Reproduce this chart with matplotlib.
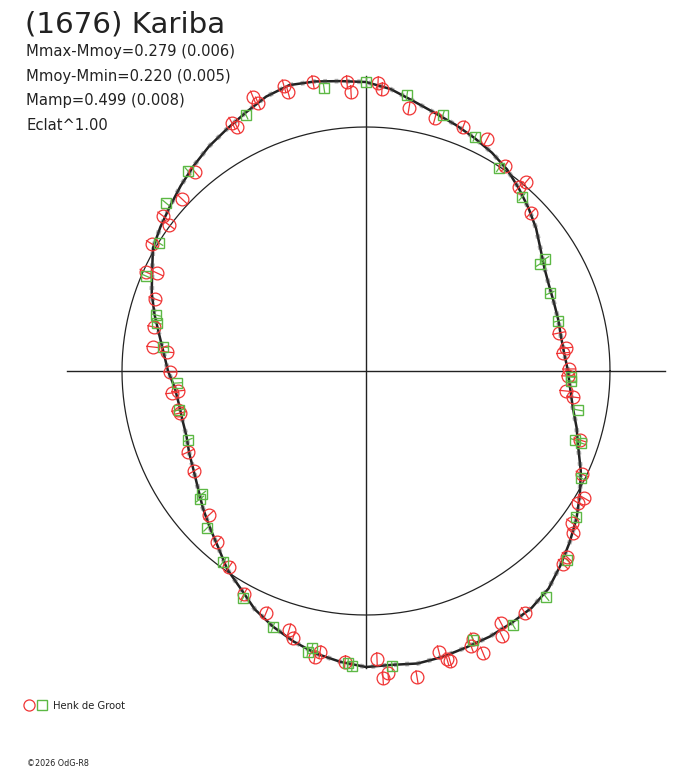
import matplotlib

matplotlib.use("Agg")

import matplotlib.pyplot as plt
import numpy as np


# fitted curve: phase angle (deg) and radius (reference circle = 244)
CURVE_ANGLE = np.arange(0, 360, 5)
CURVE_RADIUS = [
    202, 199, 198, 199, 200, 202, 206, 213, 222, 230, 238, 246,
    252, 257, 262, 267, 274, 283, 289, 291, 294, 296, 292, 285,
    279, 274, 268, 262, 256, 251, 246, 236, 228, 219, 210, 203,
    198, 192, 190, 190, 191, 195, 199, 205, 213, 221, 230, 242,
    251, 263, 272, 280, 287, 292, 296, 295, 297, 296, 294, 293,
    291, 289, 284, 275, 266, 257, 247, 237, 226, 218, 210, 205,
]
REF_RADIUS = 244

# observations, offsets from the centre in the same units
RED_X = [
    -53, -82, -78, -113, -108, -134, -129, -171, -184, -203, -197, -214,
    -19, -15, 12, 16, 43, 69, 97, 121, 139, 160, 153, 165,
    193, 200, 197, 203, 202, 200, 207, 214, 216, 218, 212,
    -220, -209, -211, -212, -213, -199, -196, -194, -188, -188, -186,
    -178, -172, -157, -149, -137, -122, -100, -77, -73, -46, -51, -21,
    11, 17, 22, 51, 73, 81, 84, 107, 105, 117, 135, 136, 159,
    201, 197, 206, 207,
]
RED_Y = [
    289, 285, 279, 274, 268, 248, 244, 199, 172, 155, 146, 127,
    289, 279, 288, 282, 263, 253, 244, 232, 205, 189, 184, 158,
    38, 23, 18, 2, -5, -20, -26, -69, -103, -127, -132,
    99, 98, 72, 44, 24, 19, -1, -22, -20, -39, -42,
    -81, -100, -144, -171, -196, -223, -242, -259, -267, -281, -286, -291,
    -288, -307, -302, -306, -281, -288, -290, -268, -275, -282, -252, -265, -242,
    -186, -193, -152, -162,
]
GREEN_X = [
    -42, 0, -120, -178, -200, -207, 41, 77, 109, 133, 156, 179, 174,
    184, 192, 205, 205, 212, 209, 215, 215,
    -220, -210, -209, -203, -189, -187, -178, -164, -166, -159, -143,
    -123, -93, -54, -58, -18, -14, 26, 107, 147, 180, 201, 210,
]
GREEN_Y = [
    283, 289, 256, 200, 168, 128, 276, 256, 234, 203, 174, 112, 107,
    78, 50, -6, -10, -39, -69, -72, -107,
    95, 56, 48, 24, -12, -39, -69, -123, -128, -157, -191,
    -227, -256, -277, -281, -292, -295, -295, -269, -254, -226, -189, -146,
]

TITLE = "(1676) Kariba"
INFO_LINES = [
    "Mmax-Mmoy=0.279 (0.006)",
    "Mmoy-Mmin=0.220 (0.005)",
    "Mamp=0.499 (0.008)",
    "Eclat^1.00",
]
OBSERVER = "Henk de Groot"
CREDIT = "\u00a92026 OdG-R8"

RED = "#f03434"
GREEN = "#5cb844"
INK = "#222222"
W, H = 688, 768


def radial_ticks(ax, xs, ys, color, half=7):

    xs = np.asarray(xs, float)
    ys = np.asarray(ys, float)
    r = np.hypot(xs, ys)
    ux, uy = xs / r, ys / r
    for x, y, dx, dy in zip(xs, ys, ux, uy):
        ax.plot([x - dx * half, x + dx * half], [y - dy * half, y + dy * half],
                color=color, lw=0.9, solid_capstyle="butt", zorder=4)


def main():

    plt.rcParams["font.family"] = ["DejaVu Sans"]

    fig = plt.figure(figsize=(W / 100, H / 100), dpi=100)
    ax = fig.add_axes([0, 0, 1, 1])
    ax.set_xlim(-366, W - 366)
    ax.set_ylim(-(H - 371), 371)
    ax.axis("off")

    # axes cross
    ax.plot([-299, 299], [0, 0], color=INK, lw=1.0, zorder=1)
    ax.plot([0, 0], [-297, 295], color=INK, lw=1.0, zorder=1)

    # reference circle
    t = np.radians(np.arange(0, 361, 1))
    ax.plot(REF_RADIUS * np.cos(t), REF_RADIUS * np.sin(t),
            color=INK, lw=0.9, zorder=2)

    # fitted curve
    a = np.radians(np.append(CURVE_ANGLE, CURVE_ANGLE[0]))
    rr = np.append(CURVE_RADIUS, CURVE_RADIUS[0])
    ax.plot(rr * np.cos(a), rr * np.sin(a), color=INK, lw=1.8, zorder=3)
    ax.plot(rr * np.cos(a), rr * np.sin(a), color="#444444", lw=3.4,
            alpha=0.4, linestyle=(0, (0.8, 1.6)), zorder=3)

    # observations
    ax.plot(RED_X, RED_Y, "o", ms=9.2, mfc="none", mec=RED, mew=0.9, zorder=5)
    radial_ticks(ax, RED_X, RED_Y, RED)
    ax.plot(GREEN_X, GREEN_Y, "s", ms=7.6, mfc="none", mec=GREEN, mew=1.0, zorder=6)
    radial_ticks(ax, GREEN_X, GREEN_Y, GREEN, half=5)

    # header texts
    fig.text(25 / W, 1 - 32 / H, TITLE, fontsize=21.2, color=INK, va="baseline")
    for i, line in enumerate(INFO_LINES):
        fig.text(26 / W, 1 - (56 + i * 24.5) / H, line, fontsize=10.6,
                 color=INK, va="baseline")

    # legend and credit, drawn in pixel units
    leg = fig.add_axes([0, 0, 1, 1], facecolor="none")
    leg.set_xlim(0, W)
    leg.set_ylim(H, 0)
    leg.axis("off")
    leg.plot([29], [705], "o", ms=8, mfc="none", mec=RED, mew=0.9)
    leg.plot([42], [705], "s", ms=6.5, mfc="none", mec=GREEN, mew=1.0)
    leg.text(53, 709, OBSERVER, fontsize=7.2, color=INK, va="baseline")
    leg.text(27, 766, CREDIT, fontsize=5.8, color=INK, va="baseline")

    fig.savefig("out.png", dpi=100, facecolor="white")


if __name__ == "__main__":
    main()
